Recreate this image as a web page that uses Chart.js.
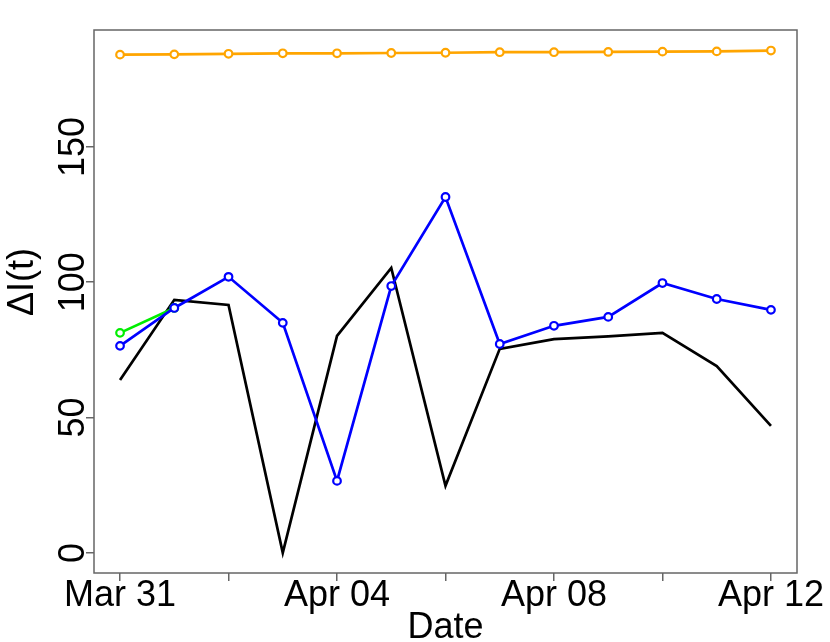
<!DOCTYPE html>
<html>
<head>
<meta charset="utf-8">
<script src="https://cdn.jsdelivr.net/npm/chart.js@4"></script>
<style>
  body { margin: 0; background: #fff; }
  canvas { display: block; }
</style>
</head>
<body>
<canvas id="chart" width="830" height="642"></canvas>
<script>
// dagen sinds 31 maart
const days = [0, 1, 2, 3, 4, 5, 6, 7, 8, 9, 10, 11, 12];
const dateLabels = { 0: "Mar 31", 4: "Apr 04", 8: "Apr 08", 12: "Apr 12" };
const xTicks = [0, 2, 4, 6, 8, 10, 12];
const yTicks = [0, 50, 100, 150];

const observed = [63.9, 93.5, 91.6, 0, 80.2, 105.3, 24.8, 75.4, 79.0, 80.0, 81.3, 69.0, 46.9];
const fitted = [76.5, 90.5, 102.0, 85.0, 26.6, 98.6, 131.5, 77.2, 83.9, 87.2, 99.7, 93.8, 89.8];
const start = [81.3, 90.5, null, null, null, null, null, null, null, null, null, null, null];
const upper = [184.1, 184.2, 184.4, 184.6, 184.6, 184.7, 184.8, 185.0, 185.0, 185.1, 185.2, 185.3, 185.6];

const FONT = "'Liberation Sans', Arial, sans-serif";
const AXIS = "#666";

function toPoints(arr) {
  return days.map((d, i) => ({ x: d, y: arr[i] }));
}

function lineSet(arr, color, withPoints, order) {
  return {
    data: toPoints(arr),
    order: order,
    borderColor: color,
    borderWidth: 2.7,
    pointRadius: withPoints ? 3.8 : 0,
    pointBorderWidth: 2.2,
    pointBorderColor: color,
    pointBackgroundColor: "#fff",
    tension: 0,
    spanGaps: false
  };
}

// labels, titels en kader zelf tekenen (R-stijl)
const rStyle = {
  id: "rStyle",
  afterDraw(chart) {
    const ctx = chart.ctx;
    const a = chart.chartArea;
    const xs = chart.scales.x;
    const ys = chart.scales.y;
    ctx.save();
    ctx.strokeStyle = AXIS;
    ctx.lineWidth = 1.5;
    ctx.strokeRect(a.left, a.top, a.right - a.left, a.bottom - a.top);

    ctx.fillStyle = "#000";
    ctx.font = "36px " + FONT;
    ctx.textAlign = "center";
    ctx.textBaseline = "alphabetic";
    Object.keys(dateLabels).forEach(k => {
      ctx.fillText(dateLabels[k], xs.getPixelForValue(Number(k)), 606);
    });
    ctx.fillText("Date", (a.left + a.right) / 2, 638);

    yTicks.forEach(v => {
      ctx.save();
      ctx.translate(84, ys.getPixelForValue(v));
      ctx.rotate(-Math.PI / 2);
      ctx.fillText(String(v), 0, 0);
      ctx.restore();
    });

    ctx.save();
    ctx.translate(33, 282);
    ctx.rotate(-Math.PI / 2);
    ctx.fillText("\u0394I(t)", 0, 0);
    ctx.restore();
    ctx.restore();
  }
};

// lagere order = bovenop getekend
new Chart(document.getElementById("chart"), {
  type: "line",
  data: {
    datasets: [
      lineSet(upper, "#ffa500", true, 0),
      lineSet(fitted, "#0000ff", true, 1),
      lineSet(start, "#00ee00", true, 2),
      lineSet(observed, "#000000", false, 3)
    ]
  },
  options: {
    responsive: false,
    animation: false,
    layout: { padding: { left: 86, right: 33, top: 30, bottom: 61 } },
    plugins: { legend: { display: false }, tooltip: { enabled: false } },
    scales: {
      x: {
        type: "linear",
        min: -0.48,
        max: 12.48,
        afterBuildTicks: s => { s.ticks = xTicks.map(v => ({ value: v })); },
        ticks: { display: false },
        border: { display: false },
        grid: { drawOnChartArea: false, tickLength: 8, color: AXIS, lineWidth: 1.5 }
      },
      y: {
        min: -7.43,
        max: 193.2,
        afterBuildTicks: s => { s.ticks = yTicks.map(v => ({ value: v })); },
        ticks: { display: false },
        border: { display: false },
        grid: { drawOnChartArea: false, tickLength: 8, color: AXIS, lineWidth: 1.5 }
      }
    }
  },
  plugins: [rStyle]
});
</script>
</body>
</html>
